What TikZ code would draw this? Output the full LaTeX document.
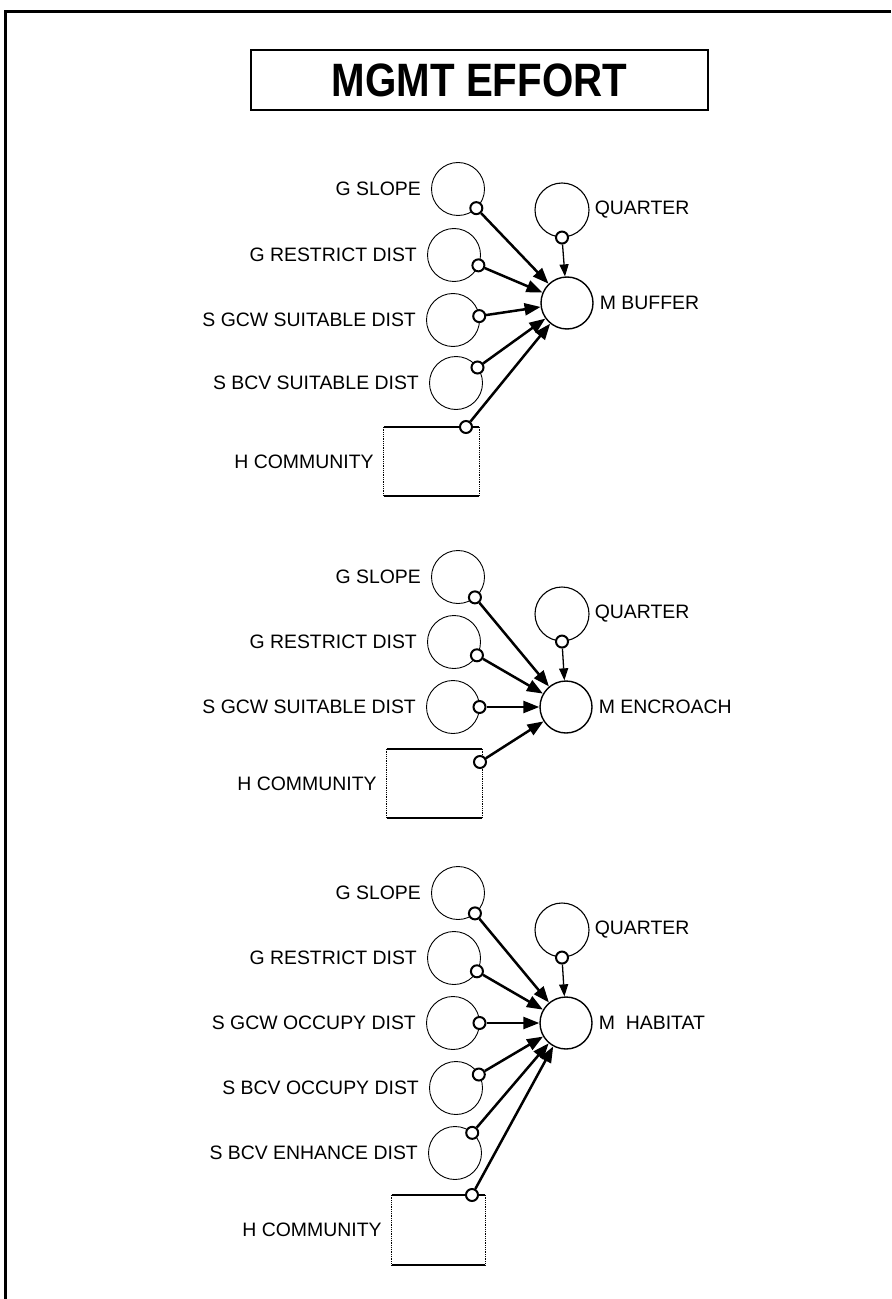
\documentclass[tikz,border=0pt]{standalone}
\usepackage{fontspec}
\setmainfont{Liberation Sans}
\usetikzlibrary{arrows.meta,calc,positioning}
\begin{document}
\begin{tikzpicture}[x=1bp,y=-1bp,
  src/.style={circle,draw,line width=0.9bp,minimum size=53bp,inner sep=0pt},
  tgt/.style={circle,draw,line width=1.4bp,minimum size=52bp,inner sep=0pt},
  qsrc/.style={circle,draw,line width=1.1bp,minimum size=54bp,inner sep=0pt},
  stockbox/.style={inner sep=0pt},
  hedge/.style={line width=1.5bp},
  vedge/.style={line width=0.8bp,densely dotted},
  ring/.style={circle,draw,line width=2bp,fill=white,minimum size=12bp,inner sep=0pt},
  lab/.style={font=\fontsize{19.5}{22}\selectfont,inner sep=0pt},
  conn/.style={line width=2.5bp,-{Triangle[length=16bp,width=12bp]}},
  qconn/.style={line width=1.3bp,-{Triangle[length=12bp,width=9bp]}},
  titlebox/.style={draw,line width=1.8bp,inner sep=0pt,minimum width=457bp,minimum height=60bp},
]
\useasboundingbox (0,0) rectangle (891,1299);
\draw[line width=3bp] (5,1299) -- (5,12) -- (891,12);

\node[titlebox] (title) at (479.5,80) {};
\node[inner sep=0pt] (titletext) at (title.center) {\scalebox{0.86}[1]{\fontsize{47}{52}\selectfont\bfseries MGMT EFFORT}};

% ---------- group 1 ----------
\node[src] (gs1) at (458,189) {};
\node[src] (gr1) at (454,255) {};
\node[src] (sg1) at (453,320) {};
\node[src] (sb1) at (456,383) {};
\node[stockbox,minimum width=95bp,minimum height=69bp] (hc1) at (431.5,461.5) {};
\node[qsrc] (q1) at (562,210) {};
\node[tgt] (m1) at (567,303) {};
\draw[hedge] (hc1.north west) -- (hc1.north east) (hc1.south west) -- (hc1.south east);
\draw[vedge] (hc1.north west) -- (hc1.south west) (hc1.north east) -- (hc1.south east);

\node[lab,anchor=east] (lgs1) at ([xshift=-10bp]gs1.west) {G SLOPE};
\node[lab,anchor=east] (lgr1) at ([xshift=-10bp]gr1.west) {G RESTRICT DIST};
\node[lab,anchor=east] (lsg1) at ([xshift=-10bp]sg1.west) {S GCW SUITABLE DIST};
\node[lab,anchor=east] (lsb1) at ([xshift=-10bp]sb1.west) {S BCV SUITABLE DIST};
\node[lab,anchor=east] (lhc1) at ([xshift=-10bp]hc1.west) {H COMMUNITY};
\node[lab,anchor=west] (lq1) at ([xshift=5bp]q1.east) {QUARTER};
\node[lab,anchor=west] (lm1) at ([xshift=6bp]m1.east) {M BUFFER};

\node[ring] (rgs1) at ($(gs1.center)!26.5bp!(m1.center)$) {};
\node[ring] (rgr1) at ($(gr1.center)!26.5bp!(m1.center)$) {};
\node[ring] (rsg1) at ($(sg1.center)!26.5bp!(m1.center)$) {};
\node[ring] (rsb1) at ($(sb1.center)!26.5bp!(m1.center)$) {};
\node[ring] (rhc1) at (466,427) {};
\node[ring] (rq1) at (q1.south) {};

\draw[conn] (rgs1) -- (m1);
\draw[conn] (rgr1) -- (m1);
\draw[conn] (rsg1) -- (m1);
\draw[conn] (rsb1) -- (m1);
\draw[conn] (rhc1) -- (m1);
\draw[qconn] (rq1) -- (m1);

% ---------- group 2 ----------
\node[src] (gs2) at (458,577) {};
\node[src] (gr2) at (454,642) {};
\node[src] (sg2) at (453,707) {};
\node[stockbox,minimum width=95bp,minimum height=69bp] (hc2) at (434.5,783.5) {};
\node[qsrc] (q2) at (562,614) {};
\node[tgt] (m2) at (566,707) {};
\draw[hedge] (hc2.north west) -- (hc2.north east) (hc2.south west) -- (hc2.south east);
\draw[vedge] (hc2.north west) -- (hc2.south west) (hc2.north east) -- (hc2.south east);

\node[lab,anchor=east] (lgs2) at ([xshift=-10bp]gs2.west) {G SLOPE};
\node[lab,anchor=east] (lgr2) at ([xshift=-10bp]gr2.west) {G RESTRICT DIST};
\node[lab,anchor=east] (lsg2) at ([xshift=-10bp]sg2.west) {S GCW SUITABLE DIST};
\node[lab,anchor=east] (lhc2) at ([xshift=-10bp]hc2.west) {H COMMUNITY};
\node[lab,anchor=west] (lq2) at ([xshift=5bp]q2.east) {QUARTER};
\node[lab,anchor=west] (lm2) at ([xshift=6bp]m2.east) {M ENCROACH};

\node[ring] (rgs2) at ($(gs2.center)!26.5bp!(m2.center)$) {};
\node[ring] (rgr2) at ($(gr2.center)!26.5bp!(m2.center)$) {};
\node[ring] (rsg2) at ($(sg2.center)!26.5bp!(m2.center)$) {};
\node[ring] (rhc2) at (480,762) {};
\node[ring] (rq2) at (q2.south) {};

\draw[conn] (rgs2) -- (m2);
\draw[conn] (rgr2) -- (m2);
\draw[conn] (rsg2) -- (m2);
\draw[conn] (rhc2) -- (m2);
\draw[qconn] (rq2) -- (m2);

% ---------- group 3 ----------
\node[src] (gs3) at (458,893) {};
\node[src] (gr3) at (454,958) {};
\node[src] (sg3) at (453,1023) {};
\node[src] (sb3) at (456,1088) {};
\node[src] (se3) at (455,1153) {};
\node[stockbox,minimum width=93bp,minimum height=70bp] (hc3) at (438.5,1230) {};
\node[qsrc] (q3) at (562,930) {};
\node[tgt] (m3) at (566,1023) {};
\draw[hedge] (hc3.north west) -- (hc3.north east) (hc3.south west) -- (hc3.south east);
\draw[vedge] (hc3.north west) -- (hc3.south west) (hc3.north east) -- (hc3.south east);

\node[lab,anchor=east] (lgs3) at ([xshift=-10bp]gs3.west) {G SLOPE};
\node[lab,anchor=east] (lgr3) at ([xshift=-10bp]gr3.west) {G RESTRICT DIST};
\node[lab,anchor=east] (lsg3) at ([xshift=-10bp]sg3.west) {S GCW OCCUPY DIST};
\node[lab,anchor=east] (lsb3) at ([xshift=-10bp]sb3.west) {S BCV OCCUPY DIST};
\node[lab,anchor=east] (lse3) at ([xshift=-10bp]se3.west) {S BCV ENHANCE DIST};
\node[lab,anchor=east] (lhc3) at ([xshift=-10bp]hc3.west) {H COMMUNITY};
\node[lab,anchor=west] (lq3) at ([xshift=5bp]q3.east) {QUARTER};
\node[lab,anchor=west] (lm3) at ([xshift=6bp]m3.east) {M~~HABITAT};

\node[ring] (rgs3) at ($(gs3.center)!26.5bp!(m3.center)$) {};
\node[ring] (rgr3) at ($(gr3.center)!26.5bp!(m3.center)$) {};
\node[ring] (rsg3) at ($(sg3.center)!26.5bp!(m3.center)$) {};
\node[ring] (rsb3) at ($(sb3.center)!26.5bp!(m3.center)$) {};
\node[ring] (rse3) at ($(se3.center)!26.5bp!(m3.center)$) {};
\node[ring] (rhc3) at (472,1195) {};
\node[ring] (rq3) at (q3.south) {};

\draw[conn] (rgs3) -- (m3);
\draw[conn] (rgr3) -- (m3);
\draw[conn] (rsg3) -- (m3);
\draw[conn] (rsb3) -- (m3);
\draw[conn] (rse3) -- (m3);
\draw[conn] (rhc3) -- (m3);
\draw[qconn] (rq3) -- (m3);
\end{tikzpicture}
\end{document}
